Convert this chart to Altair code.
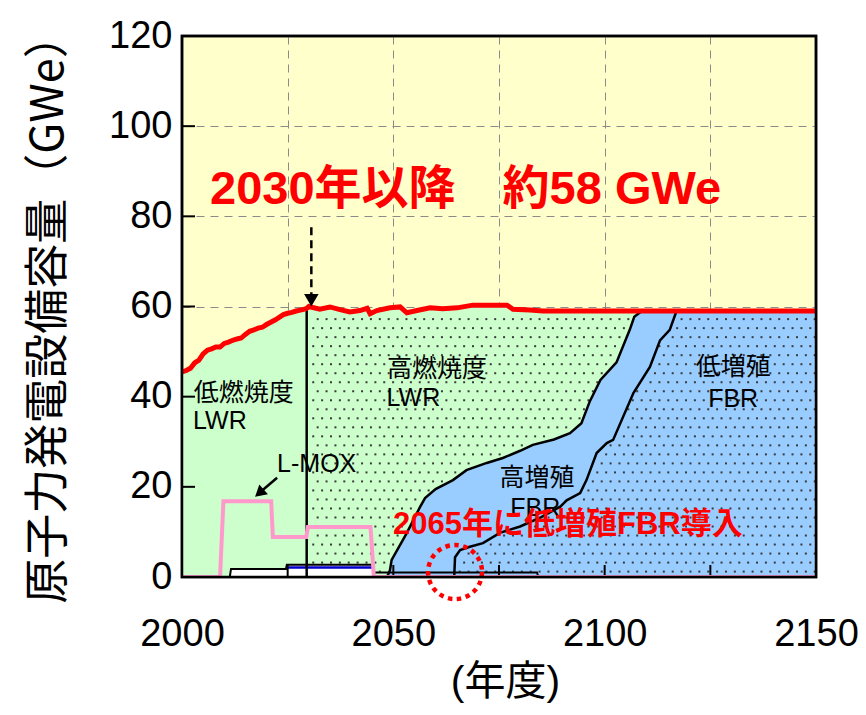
import altair as alt
import numpy as np
import pandas as pd

# ---------------- data ----------------
# total installed capacity (red line), GWe
total_years = [2000, 2001, 2002, 2003, 2004, 2005, 2006, 2007, 2008, 2009, 2010,
               2011, 2012, 2013, 2014, 2015, 2016, 2017, 2018, 2019, 2020, 2021,
               2022, 2023, 2024, 2025, 2026, 2027, 2028, 2029, 2029.5, 2030,
               2032.6, 2035, 2037.4, 2039.7, 2042.1, 2043.8, 2044.5, 2046.1,
               2049.2, 2051.6, 2053.2, 2055.6, 2058.7, 2061.7, 2065.1, 2068.8,
               2076.9, 2078.3, 2082.3, 2085.4, 2100, 2125, 2150]
total_vals = [45.5, 45.8, 46.3, 47.5, 48.1, 49.5, 50.3, 50.6, 51.0, 51.0, 51.8,
              52.1, 52.5, 52.8, 53.0, 53.8, 54.5, 54.8, 55.2, 55.4, 56.0, 56.5,
              57.0, 57.6, 58.2, 58.5, 58.7, 59.0, 59.2, 59.4, 59.6, 60.0,
              59.4, 59.9, 59.3, 58.8, 59.1, 59.6, 58.4, 59.1,
              59.7, 59.9, 58.6, 59.1, 59.7, 59.5, 59.7, 60.3,
              60.3, 59.4, 59.2, 59.0, 59.0, 59.0, 59.0]

# top of 高増殖FBR band (low-breeding + high-breeding), GWe
lh_years = [2048.5, 2049.2, 2049.6, 2053.2, 2056.3, 2057.5, 2060.0, 2064.1,
            2067.3, 2072.1, 2075.9, 2080.0, 2083.0, 2088.0, 2091.8, 2094.5,
            2096.5, 2099.0, 2102.8, 2106.0, 2107.0, 2108.8, 2150]
lh_vals = [0, 1.5, 3.8, 9.8, 15.5, 17.5, 19.5, 21.5,
           23.7, 25.3, 26.4, 28.0, 29.3, 30.5, 31.9, 34.1,
           39.0, 43.7, 47.6, 55.0, 57.7, 59.0, 59.0]

# top of 低増殖FBR, GWe
l_years = [2064.4, 2064.6, 2065.8, 2068.1, 2071.2, 2075.2, 2080.0, 2085.0,
           2089.5, 2091.0, 2094.2, 2095.7, 2098.1, 2100.5, 2102.0, 2106.8,
           2110.7, 2113.1, 2115.4, 2117.0, 2150]
l_vals = [0, 4.4, 6.0, 6.7, 7.5, 9.8, 11.2, 13.3,
          15.6, 17.0, 18.6, 21.5, 27.5, 29.7, 30.4, 40.8,
          46.6, 52.5, 54.8, 59.0, 59.0]

# L-MOX (pink line), GWe
lmox_years = [2000, 2009.0, 2009.8, 2021.1, 2021.5, 2029.4, 2029.8, 2044.6, 2045.4, 2150]
lmox_vals = [0, 0, 16.8, 16.8, 8.9, 8.9, 11.1, 11.1, 0, 0]

# small other reactors near the bottom, GWe
other_years = [2011.3, 2011.6, 2024.6, 2024.8, 2045.0, 2045.3, 2084.0, 2084.3]
other_vals = [0, 1.8, 1.8, 2.7, 2.7, 1.0, 1.0, 0]
blue_years = [2024.8, 2045.0]
blue_vals = [2.1, 2.1]

switch_year = 2029.5          # low-burnup -> high-burnup LWR
switch_total = 59.6

x_tick_vals = [2000, 2025, 2050, 2075, 2100, 2125, 2150]
y_tick_vals = [0, 20, 40, 60, 80, 100, 120]

labels_left = [("低燃焼度", 2002.8, 40.8), ("LWR", 2002.6, 34.6),
               ("高燃焼度", 2048.5, 46.1), ("LWR", 2048.4, 39.7),
               ("L-MOX", 2022.5, 25.1)]
labels_center = [("高増殖", 2084.0, 22.0), ("FBR", 2083.6, 15.4),
                 ("低増殖", 2130.4, 46.6), ("FBR", 2130.4, 39.5)]

# ---------------- layout / styles ----------------
W, H = 634, 541
LATIN = "Liberation Sans, Noto Sans CJK JP"
CJK = "Noto Sans CJK JP"
GREEN = "#CCFFCC"
BLUE = "#99CCFF"
RED = "#FF0000"
PINK = "#FF99CC"

xs = alt.Scale(domain=[2000, 2150], nice=False, zero=False)
ys = alt.Scale(domain=[0, 120], nice=False)

x_axis = alt.Axis(values=x_tick_vals, format="d",
                  labelExpr="datum.value % 50 === 0 ? datum.label : ''",
                  grid=True, gridColor="#8a8a8a", gridDash=[8, 6], gridWidth=1,
                  domain=False, ticks=False, tickSize=0,
                  labelFont=LATIN, labelFontSize=38, labelColor="black",
                  labelPadding=57, labelBaseline="middle", labelFlush=False,
                  labelOverlap=False,
                  title="(年度)", titleFont=LATIN, titleFontSize=41,
                  titleFontWeight="normal", titleColor="black",
                  titleX=W / 2 + 6, titleY=105, titleBaseline="middle")
y_axis = alt.Axis(values=y_tick_vals, format="d",
                  grid=True, gridColor="#8a8a8a", gridDash=[8, 6], gridWidth=1,
                  domain=False, ticks=False, tickSize=0,
                  labelFont=LATIN, labelFontSize=38, labelColor="black",
                  labelPadding=10, labelFlush=False, labelOverlap=False,
                  title="原子力発電設備容量（GWe）", titleFont=CJK, titleFontSize=45,
                  titleFontWeight="normal", titleColor="black", titleAngle=270,
                  titleX=-134, titleY=272, titleBaseline="middle")


def X(f="year"):
    return alt.X(f"{f}:Q", scale=xs, axis=x_axis)


def Y(f="val"):
    return alt.Y(f"{f}:Q", scale=ys, axis=y_axis, stack=None)


tot = pd.DataFrame({"year": total_years, "val": total_vals})
lh = pd.DataFrame({"year": lh_years, "val": lh_vals})
ll = pd.DataFrame({"year": l_years, "val": l_vals})
lmox = pd.DataFrame({"year": lmox_years, "val": lmox_vals})
oth = pd.DataFrame({"year": other_years, "val": other_vals})
blu = pd.DataFrame({"year": blue_years, "val": blue_vals})

# dot texture for the dotted regions (high-burnup LWR, low-breeding FBR)
dots = []
for i, v in enumerate(np.arange(1.2, 60, 2.0)):
    off = 1.05 * (i % 2)
    for yr in np.arange(2000.6 + off, 2150, 2.1):
        t = np.interp(yr, total_years, total_vals)
        a = np.interp(yr, lh_years, lh_vals, left=0)
        b = np.interp(yr, l_years, l_vals, left=0)
        inA = yr > switch_year + 0.7 and a + 0.8 < v < t - 1.2
        inB = yr > l_years[0] + 0.6 and 0.8 < v < b - 0.8
        if inA or inB:
            dots.append((yr, v))
dots = pd.DataFrame(dots, columns=["year", "val"])

layers = []
layers.append(alt.Chart(tot[tot.year <= switch_year]).mark_area(color=GREEN, clip=True)
              .encode(x=X(), y=Y()))
layers.append(alt.Chart(tot[tot.year >= switch_year]).mark_area(color=GREEN, clip=True)
              .encode(x=X(), y=Y()))
layers.append(alt.Chart(lh).mark_area(color=BLUE, clip=True).encode(x=X(), y=Y()))
layers.append(alt.Chart(ll).mark_area(color=BLUE, clip=True).encode(x=X(), y=Y()))
layers.append(alt.Chart(dots).mark_point(shape="square", filled=True, size=4, color="#3a3a3a",
                                         opacity=1, clip=True).encode(x=X(), y=Y()))
# small reactors at the bottom
layers.append(alt.Chart(oth[oth.year <= 2045.0]).mark_area(color="white", clip=True)
              .encode(x=X(), y=Y()))
layers.append(alt.Chart(oth).mark_line(color="black", strokeWidth=2, clip=True)
              .encode(x=X(), y=Y()))
layers.append(alt.Chart(blu).mark_line(color="#0000CC", strokeWidth=2.5, clip=True)
              .encode(x=X(), y=Y()))
# boundaries
sw = pd.DataFrame({"year": [switch_year], "val": [0], "val2": [switch_total]})
layers.append(alt.Chart(sw).mark_rule(color="black", strokeWidth=2.5)
              .encode(x=X(), y=Y(), y2="val2:Q"))
layers.append(alt.Chart(lh[lh.year <= 2108.8]).mark_line(color="black", strokeWidth=2.5, clip=True)
              .encode(x=X(), y=Y()))
layers.append(alt.Chart(ll[ll.year <= 2117.0]).mark_line(color="black", strokeWidth=2.5, clip=True)
              .encode(x=X(), y=Y()))
# inward ticks
xt = pd.DataFrame({"year": x_tick_vals[1:-1]})
yt = pd.DataFrame({"val": y_tick_vals[1:-1]})
layers.append(alt.Chart(xt).mark_rule(color="black", strokeWidth=2)
              .encode(x=X(), y=alt.value(H), y2=alt.value(H - 12)))
layers.append(alt.Chart(yt).mark_rule(color="black", strokeWidth=2)
              .encode(y=Y(), x=alt.value(0), x2=alt.value(13)))
# L-MOX and total
layers.append(alt.Chart(lmox).mark_line(color=PINK, strokeWidth=4, clip=True)
              .encode(x=X(), y=Y()))
layers.append(alt.Chart(tot).mark_line(color=RED, strokeWidth=5, clip=True)
              .encode(x=X(), y=Y()))

# labels
layers.append(alt.Chart(pd.DataFrame(labels_left, columns=["t", "year", "val"]))
              .mark_text(align="left", baseline="middle", font=LATIN, fontSize=25, color="black")
              .encode(x=X(), y=Y(), text="t:N"))
layers.append(alt.Chart(pd.DataFrame(labels_center, columns=["t", "year", "val"]))
              .mark_text(align="center", baseline="middle", font=LATIN, fontSize=25, color="black")
              .encode(x=X(), y=Y(), text="t:N"))

# L-MOX arrow
arr = pd.DataFrame({"year": [2022.5], "val": [22.0], "year2": [2018.0], "val2": [18.4]})
layers.append(alt.Chart(arr).mark_rule(color="black", strokeWidth=2.5)
              .encode(x=X(), y=Y(), x2="year2:Q", y2="val2:Q"))
layers.append(alt.Chart(pd.DataFrame({"year": [2018.3], "val": [18.6]}))
              .mark_point(shape="triangle-up", angle=229, filled=True, size=170, color="black", opacity=1)
              .encode(x=X(), y=Y()))

# dashed arrow at 2030
darr = pd.DataFrame({"year": [2030.6], "val": [77.6], "val2": [62.8]})
layers.append(alt.Chart(darr).mark_rule(color="black", strokeWidth=2.5, strokeDash=[8, 5])
              .encode(x=X(), y=Y(), y2="val2:Q"))
layers.append(alt.Chart(pd.DataFrame({"year": [2030.6], "val": [61.4]}))
              .mark_point(shape="triangle-down", filled=True, size=210, color="black", opacity=1)
              .encode(x=X(), y=Y()))

# red annotations
ann = pd.DataFrame({"t": ["2030年以降　約58 GWe"], "year": [2067.1], "val": [85.8]})
layers.append(alt.Chart(ann).mark_text(align="center", baseline="middle", font=LATIN, fontSize=47,
                                       fontWeight="bold", color=RED)
              .encode(x=X(), y=Y(), text="t:N"))
ann2 = pd.DataFrame({"t": ["2065年に低増殖FBR導入"], "year": [2091.3], "val": [11.5]})
layers.append(alt.Chart(ann2).mark_text(align="center", baseline="middle", font=LATIN, fontSize=31,
                                        fontWeight="bold", color=RED)
              .encode(x=X(), y=Y(), text="t:N"))
circ = pd.DataFrame({"year": [2064.6], "val": [1.1]})
layers.append(alt.Chart(circ).mark_point(shape="circle", filled=False, size=2916, color=RED,
                                         strokeWidth=4.5, strokeDash=[4.5, 4.5], opacity=1)
              .encode(x=X(), y=Y()))

# frame on top
layers.append(alt.Chart(pd.DataFrame({"a": [0]}))
              .mark_rect(fill="white", fillOpacity=0, stroke="black", strokeWidth=2.5)
              .encode(x=alt.value(0), x2=alt.value(W), y=alt.value(0), y2=alt.value(H)))

chart = alt.layer(*layers).properties(
    width=W, height=H,
    autosize=alt.AutoSizeParams(type="none"),
    padding={"left": 174, "top": 28, "right": 42, "bottom": 130},
    background="white",
).configure_view(fill="#FFFFCC", stroke="black", strokeWidth=2.5)

chart.save("out.html", embed_options={"renderer": "svg", "actions": False})
